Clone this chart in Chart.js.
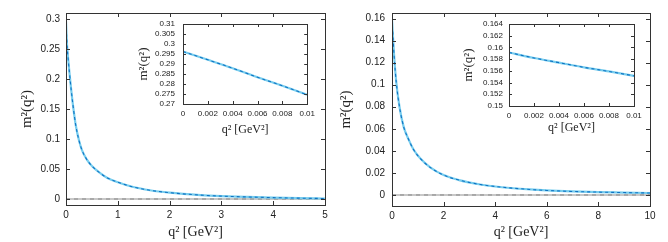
<!DOCTYPE html>
<html>
<head>
<meta charset="utf-8">
<script src="https://cdn.jsdelivr.net/npm/chart.js@4"></script>
<style>
  body { margin: 0; background: #fff; }
  #wrap { position: relative; width: 668px; height: 242px; }
  canvas { position: absolute; }
</style>
</head>
<body>
<div id="wrap">
  <canvas id="mainL" width="334" height="242" style="left:0;top:0"></canvas>
  <canvas id="mainR" width="334" height="242" style="left:334px;top:0"></canvas>
  <canvas id="insetL" width="190" height="135" style="left:130px;top:10px"></canvas>
  <canvas id="insetR" width="195" height="135" style="left:455px;top:10px"></canvas>
</div>
<script>
// left panel, main plot
const leftQ = [0, 0.01, 0.02, 0.04, 0.065, 0.1, 0.15, 0.19, 0.25, 0.31, 0.4, 0.5, 0.66, 0.8, 1.0, 1.3, 1.62, 2.0, 2.6, 3.0, 3.5, 4.0, 4.5, 5.0];
const leftM = [0.296, 0.2746, 0.257, 0.235, 0.212, 0.182, 0.146, 0.122, 0.098, 0.081, 0.066, 0.055, 0.043, 0.035, 0.028, 0.020, 0.0146, 0.0105, 0.0065, 0.0048, 0.0034, 0.0023, 0.0014, 0.0008];
const leftXTicks = [0, 1, 2, 3, 4, 5];
const leftYTicks = [0, 0.05, 0.1, 0.15, 0.2, 0.25, 0.3];

// left panel, inset
const leftInsetQ = [0, 0.002, 0.004, 0.006, 0.008, 0.01];
const leftInsetM = [0.2962, 0.2921, 0.2879, 0.2834, 0.2791, 0.2746];
const leftInsetXTicks = [0, 0.002, 0.004, 0.006, 0.008, 0.01];
const leftInsetYTicks = [0.27, 0.275, 0.28, 0.285, 0.29, 0.295, 0.3, 0.305, 0.31];

// right panel, main plot
const rightQ = [0, 0.01, 0.03, 0.077, 0.166, 0.29, 0.45, 0.65, 0.84, 1.1, 1.48, 2.0, 2.6, 3.42, 4.0, 5.35, 6.0, 7.0, 8.0, 9.0, 10];
const rightM = [0.159, 0.1551, 0.147, 0.128, 0.102, 0.080, 0.062, 0.050, 0.041, 0.033, 0.025, 0.018, 0.0135, 0.0095, 0.0077, 0.0050, 0.0041, 0.0032, 0.0026, 0.0022, 0.0018];
const rightXTicks = [0, 2, 4, 6, 8, 10];
const rightYTicks = [0, 0.02, 0.04, 0.06, 0.08, 0.1, 0.12, 0.14, 0.16];

// right panel, inset
const rightInsetQ = [0, 0.002, 0.004, 0.006, 0.008, 0.01];
const rightInsetM = [0.15914, 0.1582, 0.1574, 0.1566, 0.1559, 0.15514];
const rightInsetXTicks = [0, 0.002, 0.004, 0.006, 0.008, 0.01];
const rightInsetYTicks = [0.15, 0.152, 0.154, 0.156, 0.158, 0.16, 0.162, 0.164];

const zeroLine = [0, 0];

// gnuplot style box + inward ticks on all four sides
const framePlugin = {
  id: 'frame',
  beforeDraw(chart) {
    const a = chart.chartArea, ctx = chart.ctx;
    ctx.save();
    ctx.fillStyle = '#fff';
    ctx.fillRect(a.left, a.top, a.right - a.left, a.bottom - a.top);
    ctx.restore();
  },
  afterDraw(chart, args, opts) {
    const a = chart.chartArea, ctx = chart.ctx;
    const x = chart.scales.x, y = chart.scales.y;
    const len = opts.len || 4;
    ctx.save();
    ctx.strokeStyle = '#333';
    ctx.lineWidth = 1;
    ctx.beginPath();
    x.ticks.forEach(t => {
      const px = Math.round(x.getPixelForValue(t.value)) + 0.5;
      ctx.moveTo(px, a.bottom); ctx.lineTo(px, a.bottom - len);
      ctx.moveTo(px, a.top); ctx.lineTo(px, a.top + len);
    });
    y.ticks.forEach(t => {
      const py = Math.round(y.getPixelForValue(t.value)) + 0.5;
      ctx.moveTo(a.left, py); ctx.lineTo(a.left + len, py);
      ctx.moveTo(a.right, py); ctx.lineTo(a.right - len, py);
    });
    ctx.stroke();
    ctx.strokeRect(Math.round(a.left) + 0.5, Math.round(a.top) + 0.5,
      Math.round(a.right - a.left), Math.round(a.bottom - a.top));
    ctx.restore();
  }
};

function pts(xs, ys) {
  return xs.map((v, i) => ({ x: v, y: ys[i] }));
}

// lower "order" is drawn on top
function curveSets(xs, ys, withZero) {
  const sets = [];
  if (withZero) {
    const zx = [xs[0], xs[xs.length - 1]];
    sets.push({ data: pts(zx, zeroLine), borderColor: '#c8c8c8', borderWidth: 2, order: 4 });
    sets.push({ data: pts(zx, zeroLine), borderColor: '#8a8a8a', borderWidth: 1, borderDash: [4, 4], order: 3 });
  }
  sets.push({ data: pts(xs, ys), borderColor: 'rgb(120,205,238)', borderWidth: 2.2, cubicInterpolationMode: 'monotone', order: 2 });
  sets.push({ data: pts(xs, ys), borderColor: 'rgb(15,115,195)', borderWidth: 1.1, borderDash: [3, 3], cubicInterpolationMode: 'monotone', order: 1 });
  return sets;
}

function makeChart(id, cfg) {
  const tickFont = { family: 'Liberation Sans', size: cfg.tickSize };
  new Chart(document.getElementById(id), {
    type: 'line',
    data: { datasets: curveSets(cfg.xs, cfg.ys, cfg.zero) },
    plugins: [framePlugin],
    options: {
      responsive: false,
      animation: false,
      devicePixelRatio: 1,
      layout: { padding: { left: 0, top: cfg.top, right: cfg.right, bottom: 0 } },
      elements: { point: { radius: 0 }, line: { fill: false } },
      plugins: { legend: { display: false }, tooltip: { enabled: false }, frame: { len: cfg.tickLen } },
      scales: {
        x: {
          type: 'linear', min: cfg.xMin, max: cfg.xMax,
          grid: { display: false, drawTicks: false }, border: { display: false },
          afterBuildTicks: s => { s.ticks = cfg.xTicks.map(v => ({ value: v })); },
          afterFit: s => { s.height = cfg.xH; },
          ticks: { font: tickFont, color: '#222', padding: cfg.xPad, maxRotation: 0, autoSkip: false, callback: v => String(v) },
          title: { display: true, text: 'q² [GeV²]', color: '#222',
            font: { family: 'Liberation Serif', size: cfg.titleSize }, padding: { top: 0, bottom: cfg.xTitlePad } }
        },
        y: {
          type: 'linear', min: cfg.yMin, max: cfg.yMax,
          grid: { display: false, drawTicks: false }, border: { display: false },
          afterBuildTicks: s => { s.ticks = cfg.yTicks.map(v => ({ value: v })); },
          afterFit: s => { s.width = cfg.yW; },
          ticks: { font: tickFont, color: '#222', padding: cfg.yPad, autoSkip: false, callback: v => String(v) },
          title: { display: true, text: 'm²(q²)', color: '#222',
            font: { family: 'Liberation Serif', size: cfg.yTitleSize }, padding: { top: cfg.yTitlePad, bottom: 0 } }
        }
      }
    }
  });
}

makeChart('mainL', {
  xs: leftQ, ys: leftM, zero: true, xMin: 0, xMax: 5, yMin: -0.01, yMax: 0.31,
  xTicks: leftXTicks, yTicks: leftYTicks,
  top: 13, right: 9, xH: 37, yW: 66, tickSize: 10, xPad: 4, yPad: 6,
  titleSize: 14, yTitleSize: 15, xTitlePad: 1, yTitlePad: 18, tickLen: 4
});
makeChart('mainR', {
  xs: rightQ, ys: rightM, zero: true, xMin: 0, xMax: 10, yMin: -0.01, yMax: 0.165,
  xTicks: rightXTicks, yTicks: rightYTicks,
  top: 13, right: 18, xH: 36, yW: 58, tickSize: 10, xPad: 4, yPad: 7,
  titleSize: 14, yTitleSize: 15, xTitlePad: 1, yTitlePad: 3, tickLen: 4
});
makeChart('insetL', {
  xs: leftInsetQ, ys: leftInsetM, zero: false, xMin: 0, xMax: 0.01, yMin: 0.27, yMax: 0.31,
  xTicks: leftInsetXTicks, yTicks: leftInsetYTicks,
  top: 14, right: 12, xH: 41, yW: 53, tickSize: 8, xPad: 5, yPad: 8,
  titleSize: 12, yTitleSize: 13, xTitlePad: 8, yTitlePad: 6, tickLen: 3
});
makeChart('insetR', {
  xs: rightInsetQ, ys: rightInsetM, zero: false, xMin: 0, xMax: 0.01, yMin: 0.15, yMax: 0.164,
  xTicks: rightInsetXTicks, yTicks: rightInsetYTicks,
  top: 14, right: 16, xH: 39, yW: 54, tickSize: 8, xPad: 5, yPad: 6,
  titleSize: 12, yTitleSize: 13, xTitlePad: 10, yTitlePad: 6, tickLen: 3
});
</script>
</body>
</html>
